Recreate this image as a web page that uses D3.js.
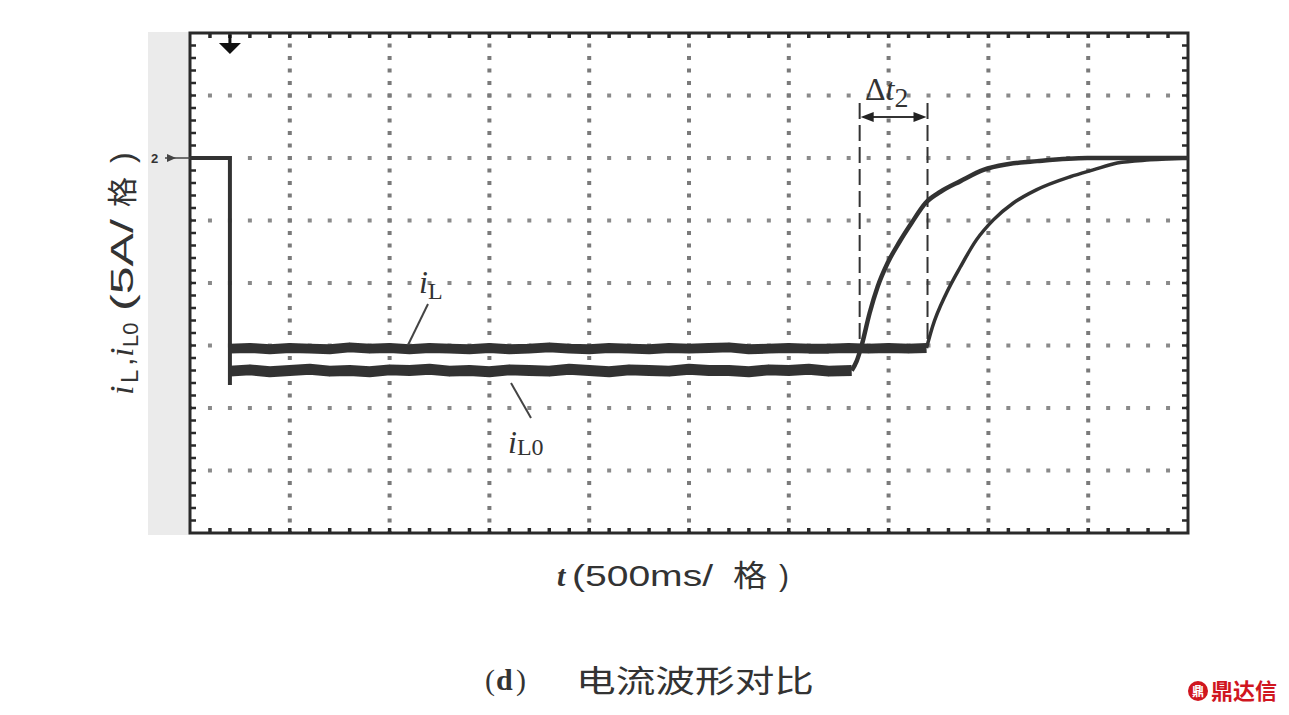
<!DOCTYPE html>
<html><head><meta charset="utf-8">
<script src="https://cdn.jsdelivr.net/npm/d3@7/dist/d3.min.js"></script>
<style>html,body{margin:0;padding:0;background:#fff;}svg{display:block;}</style>
</head><body>
<svg id="chart" width="1289" height="715"></svg>
<script>
// ---- data (x in divisions of 500 ms, y in divisions of 5 A) ----
const xDivisions = [0,1,2,3,4,5,6,7,8,9,10];
const yDivisions = [0,1,2,3,4,5,6,7,8];
const startX = [0, 0.40, 0.40];
const startY = [6.0, 6.0, 2.37];
const iLFlatX = [0.40,0.60,0.80,1.00,1.20,1.40,1.60,1.80,2.00,2.20,2.40,2.60,2.80,3.00,3.20,3.40,3.60,3.80,4.00,4.20,4.40,4.60,4.80,5.00,5.20,5.40,5.60,5.80,6.00,6.20,6.40,6.60,6.80,7.00,7.20,7.38];
const iLFlatY = [2.95,2.96,2.94,2.96,2.95,2.94,2.97,2.95,2.96,2.94,2.96,2.95,2.94,2.96,2.94,2.95,2.97,2.95,2.94,2.96,2.95,2.94,2.96,2.95,2.96,2.97,2.94,2.95,2.96,2.95,2.95,2.96,2.95,2.96,2.95,2.96];
const iLRiseX = [7.38,7.44,7.58,7.72,7.88,8.05,8.25,8.48,8.82,9.05,9.29,9.62,10.0];
const iLRiseY = [2.96,3.30,3.84,4.26,4.69,5.01,5.28,5.49,5.70,5.81,5.92,5.97,6.00];
const iL0FlatX = [0.40,0.60,0.80,1.00,1.20,1.40,1.60,1.80,2.00,2.20,2.40,2.60,2.80,3.00,3.20,3.40,3.60,3.80,4.00,4.20,4.40,4.60,4.80,5.00,5.20,5.40,5.60,5.80,6.00,6.20,6.40,6.63];
const iL0FlatY = [2.59,2.61,2.58,2.60,2.62,2.59,2.60,2.58,2.61,2.60,2.62,2.59,2.60,2.58,2.61,2.60,2.59,2.62,2.60,2.58,2.61,2.60,2.59,2.62,2.60,2.60,2.58,2.61,2.60,2.62,2.59,2.60];
const iL0RiseX = [6.63,6.68,6.73,6.81,6.89,6.99,7.11,7.23,7.37,7.52,7.72,7.95,8.19,8.49,8.99,10.0];
const iL0RiseY = [2.60,2.75,3.00,3.52,3.94,4.32,4.66,4.96,5.28,5.46,5.63,5.81,5.90,5.95,6.00,6.00];
const deltaStart = 6.71, deltaEnd = 7.39;
const levelMarker = 6, triggerX = 0.40;

const svg = d3.select('#chart');
const defs = svg.append('defs');
defs.append('filter').attr('id','soft').append('feGaussianBlur').attr('stdDeviation',0.7);
const L = 190, R = 1188, T = 33, B = 533;
const x = d3.scaleLinear().domain([0,10]).range([L,R]);
const y = d3.scaleLinear().domain([0,8]).range([B,T]);
const dark = '#2a2a2a';

// gray strip
svg.append('rect').attr('x',148).attr('y',32).attr('width',L-148).attr('height',B-32+2).attr('fill','#ebebeb');
svg.append('rect').attr('x',L).attr('y',T).attr('width',R-L).attr('height',B-T).attr('fill','#fff');

// grid dotted lines
const g = svg.append('g').attr('filter','url(#soft)');
const minorX = (R-L)/50, minorY = (B-T)/40;
g.selectAll('.hg').data(yDivisions.slice(1,-1)).join('line')
  .attr('x1',L).attr('x2',R).attr('y1',d=>y(d)).attr('y2',d=>y(d))
  .attr('stroke','#8a8a8a').attr('stroke-width',4)
  .attr('stroke-dasharray',`4 ${minorX-4}`).attr('stroke-dashoffset',2);
g.selectAll('.vg').data(xDivisions.slice(1,-1)).join('line')
  .attr('y1',T).attr('y2',B).attr('x1',d=>x(d)).attr('x2',d=>x(d))
  .attr('stroke','#7a7a7a').attr('stroke-width',4)
  .attr('stroke-dasharray',`4 ${minorY-4}`).attr('stroke-dashoffset',2);

// frame ticks
const tx = d3.range(1,50).map(i=>L+i*minorX);
const ty = d3.range(1,40).map(i=>T+i*minorY);
g.selectAll('.tt').data(tx).join('line').attr('x1',d=>d).attr('x2',d=>d).attr('y1',T).attr('y2',T+5).attr('stroke',dark).attr('stroke-width',3.5);
g.selectAll('.tb').data(tx).join('line').attr('x1',d=>d).attr('x2',d=>d).attr('y1',B).attr('y2',B-5).attr('stroke',dark).attr('stroke-width',3.5);
g.selectAll('.tl').data(ty).join('line').attr('y1',d=>d).attr('y2',d=>d).attr('x1',L).attr('x2',L+6).attr('stroke',dark).attr('stroke-width',2.5);
g.selectAll('.tr').data(ty).join('line').attr('y1',d=>d).attr('y2',d=>d).attr('x1',R).attr('x2',R-6).attr('stroke',dark).attr('stroke-width',2.5);
svg.append('rect').attr('x',L).attr('y',T).attr('width',R-L).attr('height',B-T).attr('fill','none').attr('stroke',dark).attr('stroke-width',3);

// traces
const line = d3.line().x(d=>x(d[0])).y(d=>y(d[1]));
const smooth = d3.line().x(d=>x(d[0])).y(d=>y(d[1])).curve(d3.curveMonotoneX);
const trace = '#333';
const tg = svg.append('g').attr('filter','url(#soft)');
tg.append('path').attr('d',line(d3.zip(startX,startY))).attr('fill','none').attr('stroke',trace).attr('stroke-width',4);
tg.append('path').attr('d',line(d3.zip(iL0FlatX,iL0FlatY))).attr('fill','none').attr('stroke',trace).attr('stroke-width',11).attr('stroke-linejoin','round');
tg.append('path').attr('d',line(d3.zip(iLFlatX,iLFlatY))).attr('fill','none').attr('stroke',trace).attr('stroke-width',10).attr('stroke-linejoin','round');
tg.append('path').attr('d',smooth(d3.zip(iL0RiseX,iL0RiseY))).attr('fill','none').attr('stroke',trace).attr('stroke-width',4.5);
tg.append('path').attr('d',smooth(d3.zip(iLRiseX,iLRiseY))).attr('fill','none').attr('stroke',trace).attr('stroke-width',3.5);

// delta t annotation
const yTop = 103, yArrow = 117, yBot = y(3.0);
[deltaStart, deltaEnd].forEach(d=>{
  svg.append('line').attr('x1',x(d)).attr('x2',x(d)).attr('y1',yTop).attr('y2',yBot)
    .attr('stroke','#333').attr('stroke-width',2).attr('stroke-dasharray','16 6');
});
svg.append('line').attr('x1',x(deltaStart)+4).attr('x2',x(deltaEnd)-4).attr('y1',yArrow).attr('y2',yArrow).attr('stroke','#333').attr('stroke-width',2);
const ax1 = x(deltaStart), ax2 = x(deltaEnd);
svg.append('path').attr('d',`M${ax1+1},${yArrow} L${ax1+14},${yArrow-5} L${ax1+14},${yArrow+5}Z`).attr('fill','#222');
svg.append('path').attr('d',`M${ax2-1},${yArrow} L${ax2-14},${yArrow-5} L${ax2-14},${yArrow+5}Z`).attr('fill','#222');
const dt = svg.append('text').attr('x',865).attr('y',100).attr('font-family','Liberation Serif').attr('font-size',32).attr('fill','#333');
dt.append('tspan').text('Δ');
dt.append('tspan').attr('font-style','italic').text('t');
dt.append('tspan').attr('dy',7).attr('font-size',28).text('2');

// trigger marker top and level marker left
const mx = x(triggerX);
svg.append('line').attr('x1',mx).attr('x2',mx).attr('y1',T+2).attr('y2',T+12).attr('stroke','#111').attr('stroke-width',3);
svg.append('path').attr('d',`M${mx-11},${T+10} L${mx+11},${T+10} L${mx},${T+21}Z`).attr('fill','#111');
const ly = y(levelMarker);
svg.append('text').attr('x',151).attr('y',ly+5).attr('font-family','Liberation Sans').attr('font-weight','bold').attr('font-size',13).attr('fill','#333').text('2');
svg.append('line').attr('x1',165).attr('x2',L).attr('y1',ly).attr('y2',ly).attr('stroke','#444').attr('stroke-width',1.5);
svg.append('path').attr('d',`M${176},${ly} L${167},${ly-4} L${167},${ly+4}Z`).attr('fill','#444');

// curve labels
const lab1 = svg.append('text').attr('x',419).attr('y',293).attr('font-family','Liberation Serif').attr('font-size',32).attr('fill','#333');
lab1.append('tspan').attr('font-style','italic').text('i');
lab1.append('tspan').attr('dy',6).attr('font-size',24).text('L');
svg.append('line').attr('x1',428).attr('y1',304).attr('x2',408).attr('y2',345).attr('stroke','#444').attr('stroke-width',2);
const lab2 = svg.append('text').attr('x',508).attr('y',453).attr('font-family','Liberation Serif').attr('font-size',32).attr('fill','#333');
lab2.append('tspan').attr('font-style','italic').text('i');
lab2.append('tspan').attr('dy',2).attr('font-size',24).text('L0');
svg.append('line').attr('x1',511).attr('y1',383).attr('x2',531).attr('y2',418).attr('stroke','#444').attr('stroke-width',2);

// axis labels
const ylab = svg.append('g').attr('transform','translate(133,395) rotate(-90)').attr('fill','#333');
ylab.append('text').attr('x',0).attr('y',0).attr('font-family','Liberation Serif').attr('font-style','italic').attr('font-size',34).text('i');
ylab.append('text').attr('x',12).attr('y',5).attr('font-family','Liberation Sans').attr('font-size',24).text('L');
ylab.append('text').attr('x',29).attr('y',0).attr('font-family','Liberation Sans').attr('font-size',30).text(',');
ylab.append('text').attr('x',38).attr('y',0).attr('font-family','Liberation Serif').attr('font-style','italic').attr('font-size',34).text('i');
ylab.append('text').attr('x',48).attr('y',5).attr('font-family','Liberation Sans').attr('font-size',22).text('L0');
ylab.append('text').attr('x',84).attr('y',0).attr('font-family','Liberation Sans').attr('font-size',32).attr('textLength',92).attr('lengthAdjust','spacingAndGlyphs').text('(5A/');
ylab.append('text').attr('x',188).attr('y',0).attr('font-family','Noto Sans CJK SC').attr('font-size',30).text('格');
ylab.append('text').attr('x',232).attr('y',0).attr('font-family','Liberation Sans').attr('font-size',32).text(')');

const xl = svg.append('g').attr('fill','#333');
xl.append('text').attr('x',557).attr('y',586).attr('font-family','Liberation Serif').attr('font-style','italic').attr('font-weight','bold').attr('font-size',30).text('t');
xl.append('text').attr('x',572).attr('y',586).attr('font-family','Liberation Sans').attr('font-size',30).attr('textLength',141).attr('lengthAdjust','spacingAndGlyphs').text('(500ms/');
xl.append('text').attr('x',733).attr('y',586).attr('font-family','Noto Sans CJK SC').attr('font-size',30).attr('textLength',34).attr('lengthAdjust','spacingAndGlyphs').text('格');
xl.append('text').attr('x',779).attr('y',586).attr('font-family','Liberation Sans').attr('font-size',30).text(')');

// caption
const cap = svg.append('g').attr('fill','#333');
cap.append('text').attr('x',485).attr('y',690).attr('font-family','Liberation Serif').attr('font-size',30).text('(');
cap.append('text').attr('x',496).attr('y',690).attr('font-family','Liberation Serif').attr('font-weight','bold').attr('font-size',30).text('d');
cap.append('text').attr('x',516).attr('y',690).attr('font-family','Liberation Serif').attr('font-size',30).text(')');
cap.append('text').attr('x',576).attr('y',692).attr('font-family','Noto Sans CJK SC').attr('font-size',31).attr('textLength',238).attr('lengthAdjust','spacingAndGlyphs').text('电流波形对比');

// watermark
const wm = svg.append('g');
wm.append('circle').attr('cx',1198).attr('cy',691).attr('r',10).attr('fill','#d0161f');
wm.append('text').attr('x',1198).attr('y',696).attr('text-anchor','middle').attr('font-family','Noto Sans CJK SC').attr('font-weight','bold').attr('font-size',12).attr('fill','#fff').text('鼎');
wm.append('text').attr('x',1211).attr('y',699).attr('font-family','Noto Sans CJK SC').attr('font-weight','bold').attr('font-size',22).attr('fill','#d0161f').text('鼎达信');
</script>
</body></html>
